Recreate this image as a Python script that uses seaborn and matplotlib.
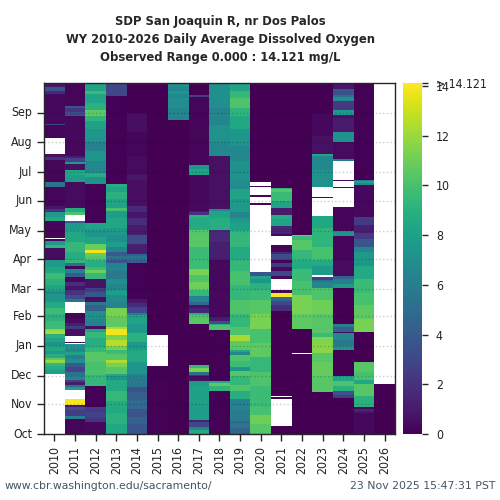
import numpy as np
import pandas as pd
import seaborn as sns
from matplotlib import pyplot as plt

NA = np.nan

years = list(range(2010, 2027))
month_labels = ["Oct", "Nov", "Dec", "Jan", "Feb", "Mar", "Apr", "May", "Jun", "Jul", "Aug", "Sep"]
month_days = [0, 31, 61, 92, 123, 151, 182, 212, 243, 273, 304, 335]
cbar_values = [0, 2, 4, 6, 8, 10, 12, 14, 14.121]
cbar_labels = ["0", "2", "4", "6", "8", "10", "12", "14", "> 14.121"]
obs_max = 14.121

# each year: (water year day where the run starts, DO in mg/L)
wy2010 = [(0, NA), (63, 8.0), (67, 8.8), (71, 9.4), (74, 11.8), (77, 10.6), (79, 8.8), (83, 7.6), (87, 8.4), (92, 7.2),
          (96, 8.2), (100, 8.9), (104, 12.4), (107, 11.8), (109, 9.6), (118, 9.0), (125, 9.6), (131, 8.6), (138, 7.4),
          (146, 6.4), (149, 8.2), (155, 9.0), (162, 9.6), (168, 8.4), (174, 7.6), (181, 0.4), (194, 9.2), (197, 7.6),
          (201, 0.3), (203, NA), (204, 0.2), (222, 8.6), (226, 7.6), (231, 2.0), (235, 0.8), (238, 0.2), (258, 5.4),
          (263, 0.2), (286, 2.0), (289, 0.6), (292, NA), (309, 0.2), (322, 3.0), (323, 0.3), (355, 1.6), (358, 3.8),
          (362, 0.8)]
wy2011 = [(0, 0.2), (16, 6.0), (19, 2.5), (25, 3.5), (28, 0.8), (30, 14.0), (36, NA), (46, 7.8), (49, 5.0), (51, 1.0),
          (54, 2.6), (56, 6.4), (61, 5.2), (65, 3.0), (70, 4.0), (74, 7.0), (78, 6.0), (82, 8.0), (85, 6.6), (90, 7.6),
          (94, NA), (95, 0.3), (96, NA), (102, 0.5), (109, 2.4), (113, 1.2), (116, 0.4), (120, 0.2), (126, NA), (138, 5.4),
          (141, 3.2), (145, 2.0), (150, 0.8), (154, 1.8), (158, 0.3), (164, 4.0), (168, 6.2), (172, 0.3), (175, 5.0),
          (178, 9.4), (181, 8.8), (190, 9.4), (200, 8.4), (212, 7.6), (220, 4.0), (222, NA), (228, 10.2), (232, 8.6),
          (236, 0.4), (263, 7.8), (270, 8.4), (275, 0.6), (282, 7.6), (284, 2.8), (288, 1.2), (290, 0.3), (332, 3.2),
          (336, 2.2), (340, 3.6), (342, 0.2)]
wy2012 = [(0, 0.3), (12, 2.2), (17, 2.8), (23, 2.4), (28, 0.1), (50, 9.4), (62, 10.0), (75, 10.4), (85, 9.4), (91, 8.8),
          (100, 9.4), (106, 8.2), (110, 0.6), (113, 6.2), (120, 7.0), (128, 4.4), (134, 5.6), (138, 0.5), (143, 3.8),
          (148, 2.6), (152, 0.7), (162, 9.4), (168, 11.0), (171, 9.6), (174, 8.8), (181, 10.4), (186, 10.8), (189, 13.8),
          (192, 10.9), (198, 8.2), (205, 7.4), (214, 8.2), (220, 0.1), (261, 7.2), (268, 8.8), (272, 6.6), (285, 7.4),
          (295, 6.2), (305, 7.4), (318, 8.0), (326, 9.2), (332, 10.6), (338, 9.0), (345, 8.2), (355, 9.6), (358, 8.2)]
wy2013 = [(0, 8.4), (10, 9.0), (22, 8.6), (34, 9.4), (45, 8.6), (56, 7.4), (60, 8.6), (63, 10.4), (70, 11.2), (74, 12.4),
          (77, 10.4), (83, 9.6), (88, 11.2), (92, 12.6), (98, 11.4), (103, 13.8), (109, 12.4), (112, 10.6), (122, 11.2),
          (131, 6.2), (138, 6.8), (145, 7.8), (150, 6.4), (156, 7.0), (162, 5.6), (170, 6.2), (178, 3.6), (181, 5.4),
          (186, 4.0), (190, 6.4), (195, 7.8), (200, 7.0), (208, 7.6), (215, 8.4), (225, 7.8), (233, 10.0), (236, 8.2),
          (245, 9.0), (252, 8.2), (258, 8.8), (261, 0.1), (352, 3.0)]
wy2014 = [(0, 3.8), (10, 4.4), (18, 3.6), (26, 4.8), (35, 4.2), (44, 3.6), (49, 5.6), (58, 6.4), (63, 7.4), (75, 8.6),
          (88, 7.6), (96, 9.0), (105, 7.6), (115, 8.2), (124, 6.0), (126, 3.0), (132, 1.6), (137, 0.8), (141, 0.1),
          (178, 4.0), (181, 5.4), (186, 4.2), (188, 1.2), (198, 3.2), (208, 1.0), (218, 1.8), (225, 0.8), (232, 1.6),
          (238, 0.5), (265, 0.9), (270, 0.4), (290, 0.2), (315, 0.5), (335, 0.0)]
wy2015 = [(0, 0.1), (71, NA), (103, 0.0)]
wy2016 = [(0, 0.0), (327, 6.4), (340, 6.9), (350, 6.6), (355, 7.4), (358, 6.4), (362, 7.2)]
wy2017 = [(0, 8.6), (4, 6.4), (7, 3.0), (13, 1.2), (15, 7.8), (30, 8.0), (50, 7.6), (55, 0.5), (60, 2.0), (62, 5.0),
          (65, 11.2), (69, 9.4), (72, 0.0), (115, 10.4), (124, 9.0), (126, 1.5), (131, 0.8), (134, 4.6), (138, 6.4), (144, 9.4),
          (150, 11.0), (158, 10.2), (166, 11.2), (172, 9.6), (181, 9.6), (195, 10.4), (213, 8.6), (225, 9.0), (228, 2.0),
          (231, 0.9), (233, 0.3), (270, 8.2), (276, 7.4), (280, 0.2), (351, 2.5), (353, 0.0)]
wy2018 = [(0, 0.1), (45, 9.2), (50, 10.6), (53, 8.6), (55, 0.1), (108, 10.2), (114, 8.8), (115, 3.2), (118, 1.0), (122, 0.3),
          (181, 1.2), (200, 1.6), (213, 8.8), (225, 8.2), (233, 6.6), (235, 0.6), (290, 6.6), (305, 7.2), (322, 6.4), (340, 7.0)]
wy2019 = [(0, 4.4), (6, 5.4), (11, 4.6), (14, 5.8), (25, 6.2), (37, 8.8), (45, 10.2), (51, 9.4), (60, 10.4), (66, 7.4),
          (70, 9.6), (76, 10.2), (82, 6.6), (85, 8.4), (88, 10.6), (97, 12.2), (103, 10.2), (112, 9.4), (125, 10.2), (140, 9.4),
          (155, 10.0), (170, 9.4), (181, 8.6), (195, 9.4), (212, 8.0), (220, 7.6), (225, 6.4), (231, 7.6), (245, 8.2), (255, 6.8),
          (265, 7.2), (285, 6.6), (300, 7.4), (318, 8.4), (332, 9.2), (340, 10.2), (350, 9.4), (358, 8.2)]
wy2020 = [(0, 10.4), (10, 11.0), (20, 10.0), (28, 9.6), (50, 10.2), (65, 9.4), (80, 10.6), (95, 10.0), (110, 11.2), (125, 10.4),
          (140, 9.6), (150, 9.0), (157, 7.4), (162, 8.2), (165, 3.8), (169, NA), (239, 0.2), (241, NA), (247, 0.2), (249, NA),
          (258, 0.2), (259, NA), (263, 0.0)]
wy2021 = [(0, 0.0), (8, NA), (37, 0.0), (39, NA), (40, 0.0), (128, 1.8), (134, 3.0), (139, 4.6), (143, 14.0), (147, 0.3), (150, NA),
          (162, 0.3), (165, 3.0), (170, 0.4), (174, 2.4), (178, 0.2), (181, 3.2), (188, 1.4), (190, 0.2), (197, NA), (206, 0.3),
          (207, NA), (208, 0.3), (209, 1.4), (217, 8.2), (224, 8.8), (228, 1.0), (236, 8.2), (243, 9.6), (252, 10.4), (255, 9.0),
          (257, 0.0)]
wy2022 = [(0, 0.0), (83, NA), (84, 0.0), (110, 10.6), (125, 11.2), (145, 10.0), (160, 9.6), (172, 8.6), (181, 9.4), (192, 10.4),
          (202, 9.6), (206, 11.0), (208, 0.0)]
wy2023 = [(0, 0.0), (44, 10.4), (60, 10.8), (75, 10.4), (84, 11.6), (94, 11.4), (101, 9.6), (105, 10.4), (125, 11.0), (140, 10.2),
          (152, 6.4), (158, 5.2), (161, 2.6), (164, NA), (166, 7.6), (175, 8.6), (181, 10.0), (195, 9.2), (215, 8.4), (227, NA),
          (246, 0.2), (247, NA), (258, 7.2), (275, 6.6), (290, 8.4), (292, 0.6), (311, 0.3), (335, 0.0)]
wy2024 = [(0, 0.0), (38, 2.4), (41, 3.6), (45, 9.0), (50, 10.2), (55, 8.2), (60, 0.0), (88, 7.2), (92, 5.6), (98, 6.6), (105, 0.3),
          (106, 4.2), (112, 6.0), (115, 0.0), (152, 7.6), (156, 6.0), (162, 4.4), (165, 0.4), (181, 0.2), (206, 7.4), (212, 0.2),
          (237, NA), (257, 0.2), (258, NA), (264, 0.3), (265, NA), (285, 6.0), (287, 0.4), (305, 7.2), (315, 1.0), (330, 0.7),
          (333, 7.6), (338, 2.4), (347, 6.8), (351, 5.0), (354, 3.6), (360, 0.8)]
wy2025 = [(0, 0.3), (22, 0.8), (24, 1.4), (26, 0.3), (28, 9.0), (40, 10.4), (52, 8.4), (56, 10.0), (65, 10.4), (75, 0.0), (106, 11.2),
          (120, 10.6), (135, 10.0), (147, 9.6), (162, 8.6), (175, 7.4), (181, 7.6), (190, 6.4), (195, 3.8), (203, 2.4), (210, 1.2), (218, 2.4),
          (226, 0.3), (260, 6.6), (262, 8.0), (264, 5.6), (265, 0.1)]
wy2026 = [(0, 0.0), (52, NA)]
all_runs = [wy2010, wy2011, wy2012, wy2013, wy2014, wy2015, wy2016, wy2017, wy2018, wy2019, wy2020, wy2021, wy2022,
            wy2023, wy2024, wy2025, wy2026]


def expand(runs):
    col = np.full(366, np.nan)
    for i, (start, value) in enumerate(runs):
        end = runs[i + 1][0] if i + 1 < len(runs) else 366
        col[start:end] = value
    return col


def main():
    sns.set_style("ticks")
    plt.rcParams['font.family'] = ['DejaVu Sans']
    df = pd.DataFrame({y: expand(r) for y, r in zip(years, all_runs)})

    fig = plt.figure(figsize=(5, 5), dpi=100)
    ax = fig.add_axes([0.088, 0.132, 0.702, 0.702])
    cax = fig.add_axes([0.806, 0.132, 0.038, 0.702])

    sns.heatmap(df, ax=ax, cbar_ax=cax, cmap="viridis", vmin=0, vmax=obs_max)
    ax.set_ylim(0, 366)
    ax.set_yticks(month_days)
    ax.set_yticklabels(month_labels, rotation=0, fontsize=8.8, fontstretch="condensed", color="#222222")
    ax.set_xticks(np.arange(len(years)) + 0.5)
    ax.set_xticklabels(years, rotation=90, fontsize=8.8, fontstretch="condensed", color="#222222")
    ax.tick_params(length=5, width=1)
    ax.grid(axis="y", color="black", alpha=0.2, linestyle=":", linewidth=1)
    ax.set_axisbelow(False)
    for side in ax.spines.values():
        side.set_visible(True)
        side.set_linewidth(1)

    cax.set_yticks(cbar_values)
    cax.set_yticklabels(cbar_labels, fontsize=8.8, fontstretch="condensed", color="#222222")
    cax.tick_params(length=4, width=1, pad=6)

    for y, line in zip([0.958, 0.921, 0.884], ["SDP San Joaquin R, nr Dos Palos",
                                               "WY 2010-2026 Daily Average Dissolved Oxygen",
                                               "Observed Range 0.000 : 14.121 mg/L"]):
        fig.text(0.44, y, line, ha="center", va="center", fontsize=9.3, fontweight="bold", fontstretch="condensed")
    fig.text(0.01, 0.028, "www.cbr.washington.edu/sacramento/", ha="left", va="center", fontsize=7.8, color="#445560")
    fig.text(0.99, 0.028, "23 Nov 2025 15:47:31 PST", ha="right", va="center", fontsize=7.8, color="#445560")

    fig.savefig("out.png", dpi=100)


if __name__ == '__main__':
    main()
